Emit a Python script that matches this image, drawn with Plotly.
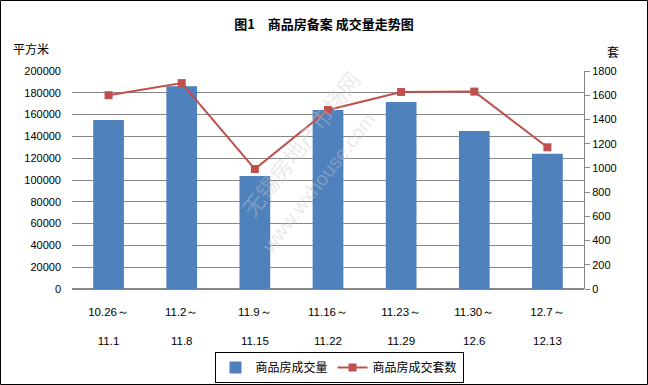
import plotly.graph_objects as go

categories = ["10.26～<br> <br>11.1", "11.2～<br> <br>11.8", "11.9～<br> <br>11.15",
              "11.16～<br> <br>11.22", "11.23～<br> <br>11.29", "11.30～<br> <br>12.6",
              "12.7～<br> <br>12.13"]
area_values = [155000, 186000, 103700, 164200, 171600, 145000, 124000]
unit_values = [1600, 1700, 990, 1478, 1627, 1630, 1170]
left_ticks = [0, 20000, 40000, 60000, 80000, 100000, 120000, 140000, 160000, 180000, 200000]
right_ticks = [0, 200, 400, 600, 800, 1000, 1200, 1400, 1600, 1800]

W, H = 648, 385
L, R, T, B = 72, 64, 71, 96
pw, ph = W - L - R, H - T - B

num_font = dict(family="Liberation Sans, Arial", size=11, color="#000")
cjk = "Noto Sans CJK SC"

fig = go.Figure()
fig.add_trace(go.Bar(x=categories, y=area_values, name="商品房成交量",
                     marker=dict(color="#4F81BD", line=dict(width=0)), yaxis="y"))
fig.add_trace(go.Scatter(x=categories, y=unit_values, name="商品房成交套数", mode="lines+markers",
                         line=dict(color="#C0504D", width=2),
                         marker=dict(symbol="square", size=8, color="#C0504D"), yaxis="y2"))

def px_x(p):
    return (p - L) / pw

def px_y(p):
    return (H - B - p) / ph

fig.update_layout(
    width=W, height=H,
    margin=dict(l=L, r=R, t=T, b=B, autoexpand=False),
    paper_bgcolor="white", plot_bgcolor="white",
    bargap=0.58,
    showlegend=True,
    legend=dict(orientation="h", x=px_x(339), xanchor="center", y=px_y(352), yanchor="top",
                bordercolor="#000", borderwidth=1, font=dict(family=cjk, size=12, color="#000"),
                itemwidth=30, tracegroupgap=0),
    title=dict(text="<b>图1　商品房备案 成交量走势图</b>", x=0.5, xanchor="center",
               y=1 - 24 / H, yanchor="middle", font=dict(family=cjk, size=13, color="#000")),
    xaxis=dict(showgrid=False, showline=False, ticks="", ticklabelstandoff=14,
               tickfont=dict(family="Liberation Sans, Arial", size=11.5, color="#000"),
               fixedrange=True),
    yaxis=dict(range=[0, 200000], tickvals=left_ticks, tickformat="d", showgrid=True, gridcolor="#888", gridwidth=1,
               showline=False, ticks="", tickfont=num_font, zeroline=True, zerolinecolor="#888",
               ticklabelstandoff=10),
    yaxis2=dict(range=[0, 1800], tickvals=right_ticks, tickformat="d", overlaying="y", side="right", showgrid=False,
                showline=True, linecolor="#888", linewidth=1, ticks="outside", ticklen=5, tickcolor="#888",
                tickfont=num_font, zeroline=False),
    annotations=[
        dict(text="平方米", xref="paper", yref="paper", x=px_x(31), y=px_y(48), showarrow=False,
             font=dict(family=cjk, size=12, color="#000"), xanchor="center", yanchor="middle"),
        dict(text="套", xref="paper", yref="paper", x=px_x(613), y=px_y(52), showarrow=False,
             font=dict(family=cjk, size=12, color="#000"), xanchor="center", yanchor="middle"),
        dict(text="无锡房地产市场网", xref="paper", yref="paper", x=px_x(300), y=px_y(225), showarrow=False,
             textangle=-52, font=dict(family=cjk, size=22, color="rgba(200,200,200,0.4)")),
        dict(text="www.wxhouse.com", xref="paper", yref="paper", x=px_x(318), y=px_y(260), showarrow=False,
             textangle=-52, font=dict(family="Liberation Sans", size=20, color="rgba(200,200,200,0.4)")),
    ],
    shapes=[dict(type="rect", xref="paper", yref="paper", x0=px_x(0.5), x1=px_x(647.5),
                 y0=px_y(384.5), y1=px_y(0.5), line=dict(color="#000", width=1))],
)

fig.write_html("out.html", config={"displayModeBar": False})

with open("out.html", "r", encoding="utf-8") as f:
    html = f.read()
html = html.replace("<head>", "<head><style>html,body{margin:0;padding:0;overflow:hidden;}</style>", 1)
with open("out.html", "w", encoding="utf-8") as f:
    f.write(html)
